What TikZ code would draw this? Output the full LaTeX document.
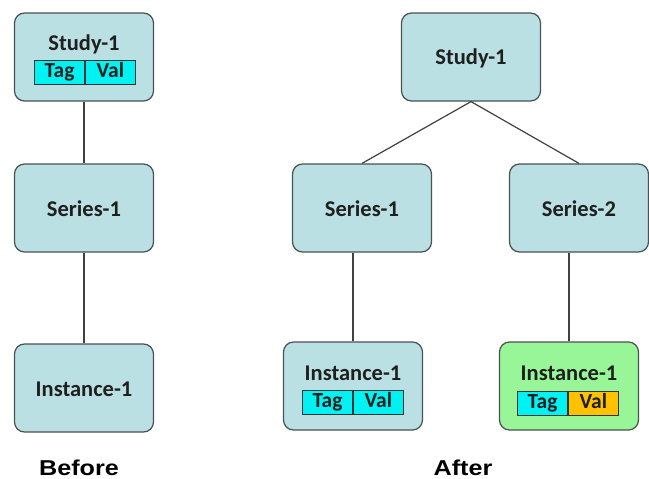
\documentclass[tikz,border=0pt]{standalone}
\usepackage{fontspec}
\setmainfont{Carlito}
\newfontfamily\arialfont{Liberation Sans}
\definecolor{boxblue}{RGB}{186,224,228}
\definecolor{boxgreen}{RGB}{152,246,152}
\definecolor{tagcyan}{RGB}{0,242,242}
\definecolor{valorange}{RGB}{255,194,0}
\definecolor{edgegray}{RGB}{75,80,82}

\begin{document}
\begin{tikzpicture}
        [
            x = 1pt, y = -1pt,
            entity/.style    = {shape=rectangle, draw=edgegray, line width=1.2pt, rounded corners=10pt,
                                fill=boxblue, minimum width=139pt, minimum height=88pt, inner sep=0pt},
            title/.style     = {font=\fontsize{22.5}{22.5}\selectfont\bfseries, text=black!88},
            cell/.style      = {shape=rectangle, draw=black!80, line width=0.8pt, fill=tagcyan,
                                minimum width=50pt, minimum height=24pt, inner sep=0pt,
                                text height=14pt, text depth=4pt,
                                font=\fontsize{21.5}{21.5}\selectfont\bfseries, text=black!88},
            link/.style      = {draw=black!75, line width=1.2pt},
            caption/.style   = {font=\fontsize{21.5}{21.5}\selectfont\arialfont\bfseries,
                                xscale=1.17, transform shape},
        ]
        \useasboundingbox (0,0) rectangle (649,479);
        % Before
        \node [entity] (study1) at (84,57) {};
        \node [title] at (84,44) {Study-1};
        \node [cell, anchor=east] (study1tag) at (85,72) {Tag};
        \node [cell, anchor=west] (study1val) at (85,72) {Val};
        \node [entity] (series1) at (84,208) {};
        \node [title] at (84,209) {Series-1};
        \node [entity] (inst1) at (84,388) {};
        \node [title] at (84,389) {Instance-1};
        \draw [link] (study1.south) -- (series1.north);
        \draw [link] (series1.south) -- (inst1.north);
        \node [caption] (before) at (79,468) {Before};
        % After
        \node [entity] (study2) at (471,57) {};
        \node [title] at (471,58) {Study-1};
        \node [entity] (series2a) at (362,208) {};
        \node [title] at (362,209) {Series-1};
        \node [entity] (series2b) at (579,208) {};
        \node [title] at (579,209) {Series-2};
        \node [entity] (inst2a) at (353,386) {};
        \node [title] at (353,373) {Instance-1};
        \node [cell, anchor=east] (inst2atag) at (353,402) {Tag};
        \node [cell, anchor=west] (inst2aval) at (353,402) {Val};
        \node [entity, fill=boxgreen] (inst2b) at (569,386) {};
        \node [title] at (569,373) {Instance-1};
        \node [cell, anchor=east] (inst2btag) at (568,403) {Tag};
        \node [cell, anchor=west, fill=valorange] (inst2bval) at (568,403) {Val};
        \draw [link] (study2.south) -- (series2a.north);
        \draw [link] (study2.south) -- (series2b.north);
        \draw [link] (inst2a.north |- series2a.south) -- (inst2a.north);
        \draw [link] (inst2b.north |- series2b.south) -- (inst2b.north);
        \node [caption] (after) at (463,468) {After};
    \end{tikzpicture}
\end{document}
